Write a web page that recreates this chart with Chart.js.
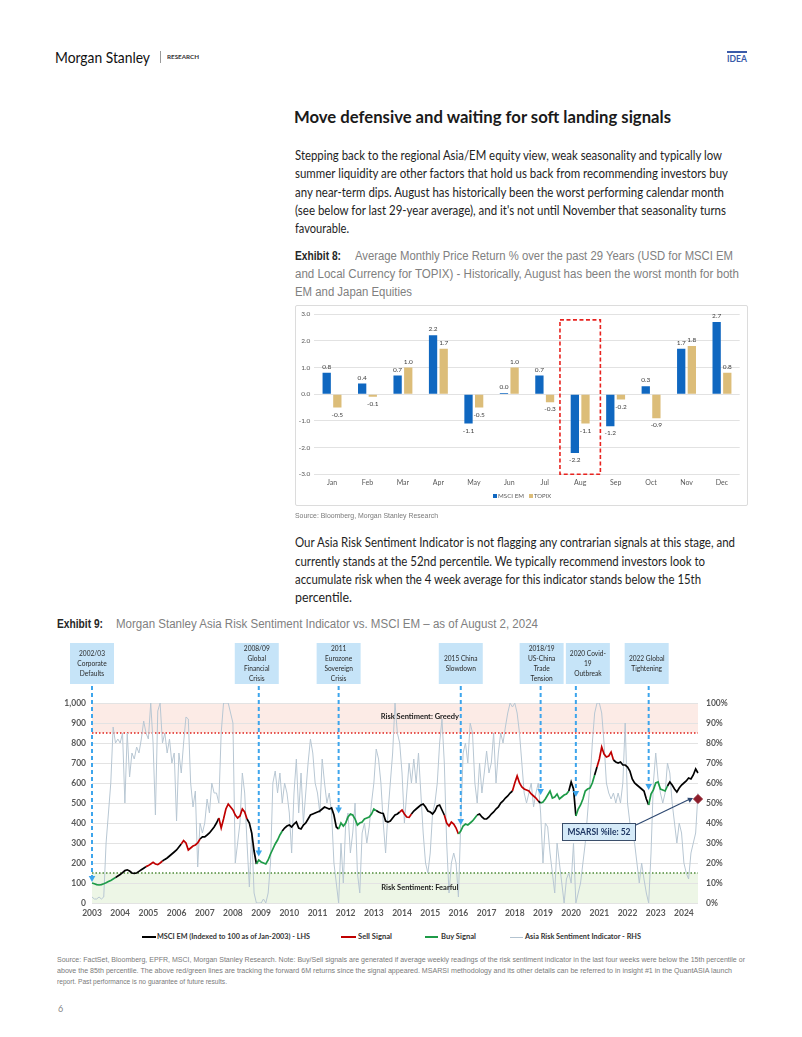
<!DOCTYPE html>
<html>
<head>
<meta charset="utf-8">
<title>Seasonality and Asia Risk Sentiment</title>
<script src="https://cdn.jsdelivr.net/npm/chart.js@4.4.1/dist/chart.umd.min.js"></script>
<style>
  html, body { margin: 0; padding: 0; background: #fff; }
  body { width: 802px; height: 1037px; position: relative; overflow: hidden; font-family: Lato, "Noto Sans", sans-serif; color: #222; }
  .t { position: absolute; white-space: nowrap; display: inline-block; transform-origin: 0 50%; }
  .body { font-size: 13px; line-height: 20px; color: #1e1e1e; }
  .cap { font-family: "Liberation Sans", Arial, sans-serif; font-size: 12.5px; line-height: 20px; color: #808080; }
  .capb { font-family: "Liberation Sans", Arial, sans-serif; font-size: 12.5px; line-height: 20px; color: #262626; font-weight: bold; }
  .src { font-family: "Liberation Sans", Arial, sans-serif; font-size: 7px; line-height: 10px; color: #7a7a7a; }
  .leg { font-size: 8px; line-height: 10px; font-weight: bold; color: #333; }
  .leg1 { font-size: 6.5px; line-height: 8px; color: #595959; }
  .swatch { position: absolute; }
  canvas { position: absolute; }
</style>
</head>
<body>

<!-- header -->
<span class="t" style="left:55px;top:47.6px;font-size:15px;line-height:18px;color:#111;" data-w="95">Morgan Stanley</span>
<div class="swatch" style="left:160px;top:51px;width:1px;height:12px;background:#9a9a9a"></div>
<span class="t" style="left:167px;top:53px;font-size:5.5px;line-height:8px;font-weight:bold;color:#333" data-w="32">RESEARCH</span>
<div class="swatch" style="left:727px;top:51px;width:20px;height:1.5px;background:#3b5ba9"></div>
<span class="t" style="left:727px;top:52.5px;font-size:9px;line-height:11px;font-weight:bold;color:#3b5ba9" data-w="20">IDEA</span>

<!-- title and first paragraph -->
<span class="t" style="left:294px;top:105.8px;font-size:17px;line-height:22px;font-weight:bold;color:#1a1a1a" data-w="377">Move defensive and waiting for soft landing signals</span>
<span class="t body" style="left:295px;top:145px" data-w="427">Stepping back to the regional Asia/EM equity view, weak seasonality and typically low</span>
<span class="t body" style="left:295px;top:163.3px" data-w="433">summer liquidity are other factors that hold us back from recommending investors buy</span>
<span class="t body" style="left:295px;top:181.7px" data-w="429">any near-term dips. August has historically been the worst performing calendar month</span>
<span class="t body" style="left:295px;top:200px" data-w="431">(see below for last 29-year average), and it's not until November that seasonality turns</span>
<span class="t body" style="left:295px;top:218.3px" data-w="54">favourable.</span>

<!-- exhibit 8 caption -->
<span class="t capb" style="left:295px;top:245.7px" data-w="46">Exhibit 8:</span>
<span class="t cap" style="left:355px;top:245.7px" data-w="378">Average Monthly Price Return % over the past 29 Years (USD for MSCI EM</span>
<span class="t cap" style="left:295px;top:263.7px" data-w="444">and Local Currency for TOPIX) - Historically, August has been the worst month for both</span>
<span class="t cap" style="left:295px;top:281.7px" data-w="117">EM and Japan Equities</span>

<!-- exhibit 8 chart -->
<div class="swatch" style="left:295px;top:305px;width:451px;height:199px;border:1px solid #dcdcdc;border-radius:2px"></div>
<canvas id="seasonalityChart" width="453" height="199" style="left:295px;top:306px"></canvas>
<div class="swatch" style="left:493px;top:494px;width:4px;height:4px;background:#0f67c0"></div>
<span class="t leg1" style="left:498px;top:492px" data-w="26">MSCI EM</span>
<div class="swatch" style="left:529px;top:494px;width:4px;height:4px;background:#dcbd79"></div>
<span class="t leg1" style="left:534px;top:492px" data-w="17">TOPIX</span>

<span class="t src" style="left:295px;top:510.7px" data-w="143">Source: Bloomberg, Morgan Stanley Research</span>

<!-- second paragraph -->
<span class="t body" style="left:295px;top:532.3px" data-w="440">Our Asia Risk Sentiment Indicator is not flagging any contrarian signals at this stage, and</span>
<span class="t body" style="left:295px;top:550.7px" data-w="410">currently stands at the 52nd percentile. We typically recommend investors look to</span>
<span class="t body" style="left:295px;top:569px" data-w="406">accumulate risk when the 4 week average for this indicator stands below the 15th</span>
<span class="t body" style="left:295px;top:587.3px" data-w="57">percentile.</span>

<!-- exhibit 9 caption -->
<span class="t capb" style="left:57px;top:614px" data-w="46">Exhibit 9:</span>
<span class="t cap" style="left:116px;top:614px" data-w="422">Morgan Stanley Asia Risk Sentiment Indicator vs. MSCI EM – as of August 2, 2024</span>

<!-- exhibit 9 chart -->
<canvas id="sentimentChart" width="710" height="290" style="left:50px;top:636px"></canvas>

<div class="swatch" style="left:142px;top:936px;width:14px;height:1.5px;background:#000"></div>
<span class="t leg" style="left:157px;top:931px" data-w="153">MSCI EM (Indexed to 100 as of Jan-2003) - LHS</span>
<div class="swatch" style="left:341px;top:936px;width:15px;height:1.5px;background:#c00000"></div>
<span class="t leg" style="left:358px;top:931px" data-w="34">Sell Signal</span>
<div class="swatch" style="left:425px;top:936px;width:13px;height:1.5px;background:#1e9b48"></div>
<span class="t leg" style="left:441px;top:931px" data-w="35">Buy Signal</span>
<div class="swatch" style="left:510px;top:936.5px;width:13px;height:1px;background:#b3c3d0"></div>
<span class="t leg" style="left:525px;top:931px" data-w="116">Asia Risk Sentiment Indicator - RHS</span>

<span class="t src" style="left:57px;top:955px" data-w="688">Source: FactSet, Bloomberg, EPFR, MSCI, Morgan Stanley Research. Note: Buy/Sell signals are generated if average weekly readings of the risk sentiment indicator in the last four weeks were below the 15th percentile or</span>
<span class="t src" style="left:57px;top:966px" data-w="675">above the 85th percentile. The above red/green lines are tracking the forward 6M returns since the signal appeared. MSARSI methodology and its other details can be referred to in insight #1 in the QuantASIA launch</span>
<span class="t src" style="left:57px;top:977px" data-w="170">report. Past performance is no guarantee of future results.</span>

<span class="t" style="left:58px;top:1003px;font-size:9px;line-height:12px;color:#888">6</span>

<script>
// ---------- Exhibit 8: average monthly price return (%) ----------
const monthNames = ["Jan", "Feb", "Mar", "Apr", "May", "Jun", "Jul", "Aug", "Sep", "Oct", "Nov", "Dec"];
const msciEmReturn = [0.8, 0.4, 0.7, 2.2, -1.1, 0.04, 0.7, -2.2, -1.2, 0.3, 1.7, 2.7];
const topixReturn = [-0.5, -0.1, 1.0, 1.7, -0.5, 1.0, -0.3, -1.1, -0.2, -0.9, 1.8, 0.8];
const highlightMonth = "Aug";

// ---------- Exhibit 9: monthly readings, Jan-2003 to Jul-2024 ----------
const firstYear = 2003;
const msciIndex = [
  100, 96, 92, 90, 92, 96, 101, 107, 113, 120, 127, 135,   // 2003
  142, 152, 162, 166, 160, 150, 148, 150, 158, 166, 174, 182, // 2004
  187, 195, 203, 195, 192, 200, 210, 218, 225, 235, 245, 255, // 2005
  265, 280, 295, 312, 300, 265, 275, 285, 290, 300, 320, 331, // 2006
  331, 340, 350, 365, 380, 400, 425, 375, 420, 470, 495, 480, // 2007
  465, 440, 425, 435, 470, 455, 420, 400, 350, 260, 195, 215, // 2008
  205, 200, 195, 215, 245, 270, 295, 315, 340, 360, 375, 385, // 2009
  390, 380, 395, 405, 375, 370, 390, 400, 420, 440, 445, 450, // 2010
  455, 460, 470, 480, 475, 470, 475, 440, 380, 370, 400, 385, // 2011
  400, 430, 445, 440, 420, 390, 400, 405, 420, 425, 430, 445, // 2012
  470, 462, 455, 450, 448, 410, 405, 410, 425, 440, 445, 455, // 2013
  465, 445, 430, 428, 445, 460, 470, 480, 490, 495, 480, 460, // 2014
  455, 445, 460, 485, 490, 465, 440, 400, 385, 405, 395, 375, // 2015
  345, 360, 385, 395, 390, 400, 410, 425, 440, 445, 430, 420, // 2016
  420, 430, 445, 455, 470, 480, 500, 510, 525, 535, 550, 560, // 2017
  600, 635, 600, 580, 570, 565, 560, 545, 535, 525, 510, 500, // 2018
  505, 520, 540, 560, 525, 530, 545, 520, 530, 540, 545, 560, // 2019
  605, 570, 435, 470, 490, 520, 560, 570, 575, 600, 640, 680, // 2020
  720, 780, 745, 730, 735, 755, 715, 705, 700, 705, 690, 690, // 2021
  680, 660, 620, 600, 590, 580, 570, 560, 520, 490, 545, 565, // 2022
  600, 605, 570, 565, 560, 585, 605, 590, 570, 555, 575, 590, // 2023
  600, 610, 625, 620, 640, 670, 650                           // 2024
];
const riskSentiment = [
  3, 2, 2, 3, 2, 3, 30, 45, 60, 88, 80, 82,       // 2003
  80, 85, 50, 85, 63, 75, 72, 78, 75, 82, 91, 85,  // 2004
  82, 100, 80, 44, 96, 100, 80, 85, 75, 82, 70, 75, // 2005
  41, 75, 65, 80, 93, 92, 60, 48, 56, 18, 40, 35,  // 2006
  40, 52, 45, 60, 55, 55, 50, 85, 100, 100, 100, 95, // 2007
  90, 20, 30, 40, 65, 55, 30, 8, 35, 5, 0, 0,      // 2008
  0, 2, 0, 5, 20, 60, 66, 55, 65, 50, 60, 55,      // 2009
  45, 25, 55, 72, 45, 65, 40, 55, 70, 82, 75, 60,  // 2010
  55, 45, 72, 60, 50, 55, 45, 20, 10, 0, 30, 10,   // 2011
  40, 45, 25, 35, 50, 15, 5, 35, 40, 30, 38, 50,   // 2012
  60, 77, 72, 60, 40, 25, 45, 60, 75, 100, 85, 80, // 2013
  65, 40, 55, 70, 60, 72, 60, 75, 55, 35, 20, 15,  // 2014
  25, 45, 50, 60, 80, 92, 70, 30, 5, 20, 25, 20,   // 2015
  3, 40, 75, 80, 70, 90, 85, 60, 50, 70, 55, 65,   // 2016
  76, 65, 70, 85, 60, 75, 85, 80, 88, 95, 100, 98, // 2017
  100, 95, 85, 70, 55, 50, 55, 60, 48, 55, 60, 45, // 2018
  20, 40, 38, 25, 15, 5, 30, 20, 10, 0, 12, 15,    // 2019
  10, 30, 0, 5, 10, 20, 30, 45, 60, 80, 95, 100,   // 2020
  100, 95, 80, 60, 55, 52, 55, 50, 55, 50, 60, 90, // 2021
  50, 40, 35, 30, 20, 10, 20, 12, 5, 0, 25, 60,    // 2022
  75, 62, 55, 50, 55, 70, 65, 50, 40, 30, 40, 35,  // 2023
  20, 15, 12, 25, 30, 35, 55                       // 2024
];
// B = buy signal (green), S = sell signal (red), - = none (black)
const signalByYear = [
  "BBBBBBBBBB--", "-----------S", "SSSSSS------", "--SSSSSSSS--", "------SSSSSS",
  "SSSSSS----BB", "BBBBBBBBB---", "------------", "---------BBB", "BBBBBBBBBBBB",
  "B----------S", "SSSS--------", "------SSSSSS", "BBBBBBBB----", "-----------S",
  "SSSSSSSSSS-B", "BBBBBBBBBBB-", "--BBBBBBBB-S", "SSSSSS------", "---------BBB",
  "BBBBB-------", "-------"
];
const latestPercentile = 52;
const rsiGreedy = 85;
const rsiFearful = 15;
const eventNotes = [
  { month: "2003-01", lines: ["2002/03", "Corporate", "Defaults"], arrowTo: 105 },
  { month: "2008-12", lines: ["2008/09", "Global", "Financial", "Crisis"], arrowTo: 232 },
  { month: "2011-10", lines: ["2011", "Eurozone", "Sovereign", "Crisis"], arrowTo: 448 },
  { month: "2016-02", lines: ["2015 China", "Slowdown"], arrowTo: 390 },
  { month: "2018-12", lines: ["2018/19", "US-China", "Trade", "Tension"], arrowTo: 540 },
  { month: "2020-03", lines: ["2020 Covid-", "19", "Outbreak"], arrowTo: 530 },
  { month: "2022-10", lines: ["2022 Global", "Tightening"], arrowTo: 565 }
];

const signals = signalByYear.join("").split("");
const monthLabels = msciIndex.map((_, i) =>
  `${firstYear + Math.floor(i / 12)}-${String(i % 12 + 1).padStart(2, "0")}`);
const latestPoint = riskSentiment.map((_, i) => i === riskSentiment.length - 1 ? latestPercentile : null);
const signalColor = { B: "#1e9b48", S: "#c00000", "-": "#000000" };

// ---------- Exhibit 8 chart ----------
const barValueLabels = {
  id: "barValueLabels",
  afterDatasetsDraw(chart) {
    const ctx = chart.ctx;
    ctx.save();
    ctx.font = "6.5px Lato";
    ctx.fillStyle = "#404040";
    ctx.textAlign = "center";
    ctx.textBaseline = "middle";
    chart.data.datasets.forEach((ds, di) => {
      chart.getDatasetMeta(di).data.forEach((bar, i) => {
        const v = ds.data[i];
        ctx.fillText(v.toFixed(1), bar.x, v >= 0 ? bar.y - 6 : bar.y + 7);
      });
    });
    ctx.restore();
  }
};

const monthHighlight = {
  id: "monthHighlight",
  afterDraw(chart) {
    const { ctx, scales: { x, y } } = chart;
    const i = monthNames.indexOf(highlightMonth);
    const half = (x.getPixelForValue(1) - x.getPixelForValue(0)) * 0.57;
    const cx = x.getPixelForValue(i);
    const top = y.getPixelForValue(2.78), bottom = y.getPixelForValue(-3);
    ctx.save();
    ctx.strokeStyle = "#e8231f";
    ctx.lineWidth = 1.6;
    ctx.setLineDash([4, 2.5]);
    ctx.strokeRect(cx - half, top, half * 2, bottom - top);
    ctx.restore();
  }
};

new Chart(document.getElementById("seasonalityChart"), {
  type: "bar",
  data: {
    labels: monthNames,
    datasets: [
      { label: "MSCI EM", data: msciEmReturn, backgroundColor: "#0f67c0", barPercentage: 0.78, categoryPercentage: 0.6 },
      { label: "TOPIX", data: topixReturn, backgroundColor: "#dcbd79", barPercentage: 0.78, categoryPercentage: 0.6 }
    ]
  },
  options: {
    responsive: false,
    animation: false,
    layout: { padding: { top: 8, right: 8.3, bottom: 14.7, left: 0 } },
    plugins: { legend: { display: false }, tooltip: { enabled: false } },
    scales: {
      x: {
        grid: { display: false, drawTicks: false },
        border: { display: false },
        ticks: { color: "#595959", font: { family: "Lato", size: 7 }, padding: 4 },
        afterFit: s => { s.height = 16; }
      },
      y: {
        min: -3, max: 3,
        ticks: { stepSize: 1, callback: v => v.toFixed(1), color: "#595959", font: { family: "Lato", size: 6.5 }, padding: 4 },
        grid: { color: "#e2e2e2", drawTicks: false },
        border: { display: false },
        afterFit: s => { s.width = 19.3; }
      }
    }
  },
  plugins: [barValueLabels, monthHighlight]
});

// ---------- Exhibit 9 chart ----------
function arrowHead(ctx, x, y, angle, size) {
  ctx.save();
  ctx.translate(x, y);
  ctx.rotate(angle);
  ctx.beginPath();
  ctx.moveTo(0, 0);
  ctx.lineTo(-size, -size * 0.55);
  ctx.lineTo(-size, size * 0.55);
  ctx.closePath();
  ctx.fill();
  ctx.restore();
}

const sentimentZones = {
  id: "sentimentZones",
  beforeDraw(chart) {
    const { ctx, chartArea: a } = chart;
    const r = chart.scales.rsi;
    const yTop = r.getPixelForValue(100), yHi = r.getPixelForValue(rsiGreedy);
    const yLo = r.getPixelForValue(rsiFearful), yBottom = r.getPixelForValue(0);
    ctx.save();
    ctx.fillStyle = "#fcebe6";
    ctx.fillRect(a.left, yTop, a.width, yHi - yTop);
    ctx.fillStyle = "#edf6e6";
    ctx.fillRect(a.left, yLo, a.width, yBottom - yLo);
    ctx.restore();
  },
  beforeDatasetsDraw(chart) {
    const { ctx, chartArea: a } = chart;
    const r = chart.scales.rsi;
    ctx.save();
    ctx.lineWidth = 1.4;
    ctx.setLineDash([1.5, 2]);
    ctx.strokeStyle = "#e0201b";
    ctx.beginPath();
    ctx.moveTo(a.left, r.getPixelForValue(rsiGreedy));
    ctx.lineTo(a.right, r.getPixelForValue(rsiGreedy));
    ctx.stroke();
    ctx.strokeStyle = "#4f8a3a";
    ctx.beginPath();
    ctx.moveTo(a.left, r.getPixelForValue(rsiFearful));
    ctx.lineTo(a.right, r.getPixelForValue(rsiFearful));
    ctx.stroke();
    ctx.restore();
  },
  afterDatasetsDraw(chart) {
    const { ctx, chartArea: a } = chart;
    const r = chart.scales.rsi;
    ctx.save();
    ctx.font = "bold 7.5px Lato";
    ctx.fillStyle = "#222";
    ctx.textAlign = "center";
    ctx.textBaseline = "middle";
    const cx = a.left + a.width * 0.541;
    ctx.fillText("Risk Sentiment: Greedy", cx, r.getPixelForValue(93));
    ctx.fillText("Risk Sentiment: Fearful", cx, r.getPixelForValue(7.5));
    ctx.restore();
  }
};

const eventCallouts = {
  id: "eventCallouts",
  afterDatasetsDraw(chart) {
    const { ctx, chartArea: a, scales: { x, y, rsi } } = chart;
    const boxShift = [0, -2, 0, 0, 1, 12, -2];
    const boxW = 44, boxH = 41, boxTop = 7;
    ctx.save();
    eventNotes.forEach((n, k) => {
      const px = x.getPixelForValue(chart.data.labels.indexOf(n.month));
      const bx = px + boxShift[k] - boxW / 2;
      ctx.fillStyle = "#c6e4f8";
      ctx.fillRect(bx, boxTop, boxW, boxH);
      ctx.fillStyle = "#2b2b2b";
      ctx.font = "6.6px Lato";
      ctx.textAlign = "center";
      ctx.textBaseline = "middle";
      const lh = 10, start = boxTop + boxH / 2 - (n.lines.length - 1) * lh / 2;
      n.lines.forEach((s, j) => ctx.fillText(s, bx + boxW / 2, start + j * lh));
      const yEnd = y.getPixelForValue(n.arrowTo);
      ctx.strokeStyle = "#3da5ec";
      ctx.fillStyle = "#3da5ec";
      ctx.lineWidth = 2;
      ctx.setLineDash([4, 3]);
      ctx.beginPath();
      ctx.moveTo(px, boxTop + boxH + 2);
      ctx.lineTo(px, yEnd - 4);
      ctx.stroke();
      ctx.setLineDash([]);
      arrowHead(ctx, px, yEnd, Math.PI / 2, 6);
    });

    // MSARSI reading call-out
    const last = chart.getDatasetMeta(2).data[riskSentiment.length - 1];
    const bLeft = a.left + 470, bTop = rsi.getPixelForValue(40), bW = 74, bH = 18;
    ctx.fillStyle = "#d5eaf8";
    ctx.fillRect(bLeft, bTop, bW, bH);
    ctx.strokeStyle = "#3b4f6b";
    ctx.lineWidth = 1;
    ctx.strokeRect(bLeft + 0.5, bTop + 0.5, bW - 1, bH - 1);
    ctx.fillStyle = "#1f3763";
    ctx.font = "bold 8.5px Lato";
    ctx.textAlign = "center";
    ctx.textBaseline = "middle";
    ctx.fillText(`MSARSI %ile: ${latestPercentile}`, bLeft + bW / 2, bTop + bH / 2 + 0.5);
    const sx = bLeft + bW, sy = bTop + 2, ex = last.x - 5, ey = last.y - 1;
    ctx.strokeStyle = "#2c4770";
    ctx.fillStyle = "#2c4770";
    ctx.lineWidth = 1.1;
    ctx.beginPath();
    ctx.moveTo(sx, sy);
    ctx.lineTo(ex - 3, ey + 1);
    ctx.stroke();
    arrowHead(ctx, ex, ey, Math.atan2(ey - sy, ex - sx), 5);
    ctx.restore();
  }
};

const axisFont = { family: "Lato", size: 8.5, weight: "bold" };

new Chart(document.getElementById("sentimentChart"), {
  type: "line",
  data: {
    labels: monthLabels,
    datasets: [
      {
        label: "MSCI EM (Indexed to 100 as of Jan-2003) - LHS",
        data: msciIndex,
        yAxisID: "y",
        borderColor: "#000",
        borderWidth: 1.7,
        pointRadius: 0,
        order: 0,
        segment: { borderColor: c => signalColor[signals[c.p0DataIndex]] }
      },
      {
        label: "Asia Risk Sentiment Indicator - RHS",
        data: riskSentiment,
        yAxisID: "rsi",
        borderColor: "#b8c7d3",
        borderWidth: 1,
        pointRadius: 0,
        order: 1
      },
      {
        label: "MSARSI %ile",
        data: latestPoint,
        yAxisID: "rsi",
        showLine: false,
        pointStyle: "rectRot",
        pointRadius: 4.5,
        pointBackgroundColor: "#8c1d2a",
        pointBorderColor: "#8c1d2a",
        order: -1
      }
    ]
  },
  options: {
    responsive: false,
    animation: false,
    layout: { padding: { top: 67, left: 0, right: 0, bottom: 0 } },
    plugins: { legend: { display: false }, tooltip: { enabled: false } },
    scales: {
      x: {
        type: "category",
        offset: false,
        grid: { display: false, drawTicks: false },
        border: { display: false },
        ticks: {
          autoSkip: false, maxRotation: 0, padding: 5, color: "#595959", font: axisFont,
          callback: function (v) {
            const lab = this.getLabelForValue(v);
            return lab.endsWith("-01") ? lab.slice(0, 4) : "";
          }
        },
        afterFit: s => { s.height = 23; }
      },
      y: {
        position: "left",
        min: 0, max: 1000,
        ticks: { stepSize: 100, padding: 6, color: "#595959", font: axisFont, callback: v => v.toLocaleString("en-US") },
        grid: { color: "#e3e3e3", drawTicks: false },
        border: { display: false },
        afterFit: s => { s.width = 42; }
      },
      rsi: {
        position: "right",
        min: 0, max: 100,
        ticks: { stepSize: 10, padding: 8, color: "#595959", font: axisFont, callback: v => v + "%" },
        grid: { display: false, drawTicks: false },
        border: { display: false },
        afterFit: s => { s.width = 62; }
      }
    }
  },
  plugins: [sentimentZones, eventCallouts]
});

// squeeze each text line to the width it takes on the page
function fitLines() {
  document.querySelectorAll("[data-w]").forEach(el => {
    el.style.transform = "none";
    const w = el.getBoundingClientRect().width;
    if (w > 0) el.style.transform = `scaleX(${el.dataset.w / w})`;
  });
}
fitLines();
document.fonts.ready.then(fitLines);
</script>
</body>
</html>
